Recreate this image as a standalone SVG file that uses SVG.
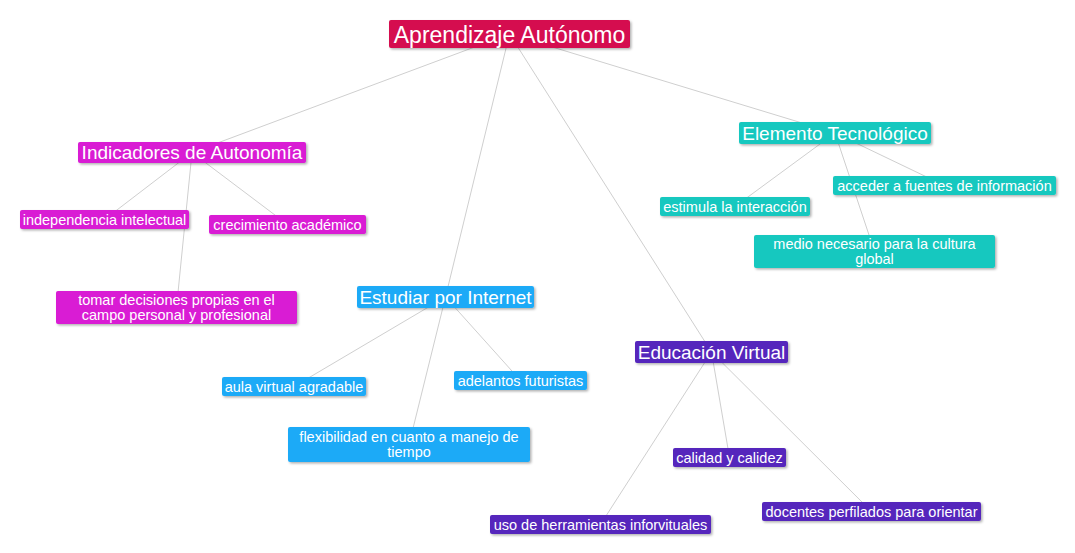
<svg xmlns="http://www.w3.org/2000/svg" width="1075" height="553" viewBox="0 0 1075 553">
<defs>
<filter id="sh" x="-10%" y="-30%" width="120%" height="160%">
<feDropShadow dx="1.5" dy="1.5" stdDeviation="1" flood-color="#000" flood-opacity="0.3"/>
</filter>
<style>
.ln{stroke:#CFCFCF;stroke-width:1;fill:none}
rect{filter:url(#sh)}
text{font-family:"Liberation Sans",Arial,sans-serif;fill:#fff;text-anchor:middle}
.t0{font-size:23px}
.t1{font-size:19px}
.t2{font-size:14.5px}
.root{fill:#D5094F}
.mag{fill:#D91BD4}
.blu{fill:#1DAAF7}
.tea{fill:#19C8BF}
.pur{fill:#5427BC}
</style>
</defs>
<rect width="1075" height="553" fill="#fff" style="filter:none"/>
<g id="connectors">
<line class="ln" x1="509.5" y1="34" x2="192" y2="152.5"/>
<line class="ln" x1="509.5" y1="34" x2="445.5" y2="297"/>
<line class="ln" x1="509.5" y1="34" x2="711.5" y2="352"/>
<line class="ln" x1="509.5" y1="34" x2="835" y2="133"/>
<line class="ln" x1="192" y1="152.5" x2="104.5" y2="219.5"/>
<line class="ln" x1="192" y1="152.5" x2="287.5" y2="224.5"/>
<line class="ln" x1="192" y1="152.5" x2="176.5" y2="307.5"/>
<line class="ln" x1="445.5" y1="297" x2="294" y2="386.5"/>
<line class="ln" x1="445.5" y1="297" x2="520.5" y2="380.5"/>
<line class="ln" x1="445.5" y1="297" x2="409" y2="444.5"/>
<line class="ln" x1="711.5" y1="352" x2="729.5" y2="457.5"/>
<line class="ln" x1="711.5" y1="352" x2="871.5" y2="511.5"/>
<line class="ln" x1="711.5" y1="352" x2="600.5" y2="524.5"/>
<line class="ln" x1="835" y1="133" x2="735" y2="206.5"/>
<line class="ln" x1="835" y1="133" x2="944.5" y2="185.5"/>
<line class="ln" x1="835" y1="133" x2="874.5" y2="251.5"/>
</g>
<g id="root"><rect class="root" x="389" y="20" width="241" height="28" rx="2"/><text class="t0" x="509.5" y="42.5">Aprendizaje Autónomo</text></g>
<g id="indicadores"><rect class="mag" x="78" y="142" width="228" height="21" rx="2"/><text class="t1" x="192" y="159">Indicadores de Autonomía</text></g>
<g id="independencia"><rect class="mag" x="20" y="210" width="169" height="19" rx="2"/><text class="t2" x="104.5" y="224.5">independencia intelectual</text></g>
<g id="crecimiento"><rect class="mag" x="209" y="215" width="157" height="19" rx="2"/><text class="t2" x="287.5" y="229.5">crecimiento académico</text></g>
<g id="tomar"><rect class="mag" x="56" y="291" width="241" height="33" rx="2"/><text class="t2" x="176.5" y="305">tomar decisiones propias en el</text><text class="t2" x="176.5" y="319.5">campo personal y profesional</text></g>
<g id="estudiar"><rect class="blu" x="357" y="286" width="177" height="22" rx="2"/><text class="t1" x="445.5" y="303.5">Estudiar por Internet</text></g>
<g id="aula"><rect class="blu" x="222" y="377" width="144" height="19" rx="2"/><text class="t2" x="294" y="391.5">aula virtual agradable</text></g>
<g id="adelantos"><rect class="blu" x="454" y="371" width="133" height="19" rx="2"/><text class="t2" x="520.5" y="385.5">adelantos futuristas</text></g>
<g id="flexibilidad"><rect class="blu" x="288" y="427" width="242" height="35" rx="2"/><text class="t2" x="409" y="442">flexibilidad en cuanto a manejo de</text><text class="t2" x="409" y="457">tiempo</text></g>
<g id="educacion"><rect class="pur" x="635" y="341" width="153" height="22" rx="2"/><text class="t1" x="711.5" y="358.5">Educación Virtual</text></g>
<g id="calidad"><rect class="pur" x="673" y="448" width="113" height="19" rx="2"/><text class="t2" x="729.5" y="462.5">calidad y calidez</text></g>
<g id="docentes"><rect class="pur" x="762" y="502" width="219" height="19" rx="2"/><text class="t2" x="871.5" y="516.5">docentes perfilados para orientar</text></g>
<g id="uso"><rect class="pur" x="490" y="515" width="221" height="19" rx="2"/><text class="t2" x="600.5" y="529.5">uso de herramientas inforvituales</text></g>
<g id="elemento"><rect class="tea" x="739" y="122" width="192" height="22" rx="2"/><text class="t1" x="835" y="139.5">Elemento Tecnológico</text></g>
<g id="estimula"><rect class="tea" x="660" y="197" width="150" height="19" rx="2"/><text class="t2" x="735" y="211.5">estimula la interacción</text></g>
<g id="acceder"><rect class="tea" x="833" y="176" width="223" height="19" rx="2"/><text class="t2" x="944.5" y="190.5">acceder a fuentes de información</text></g>
<g id="medio"><rect class="tea" x="754" y="235" width="241" height="33" rx="2"/><text class="t2" x="874.5" y="249">medio necesario para la cultura</text><text class="t2" x="874.5" y="263.5">global</text></g>
</svg>
